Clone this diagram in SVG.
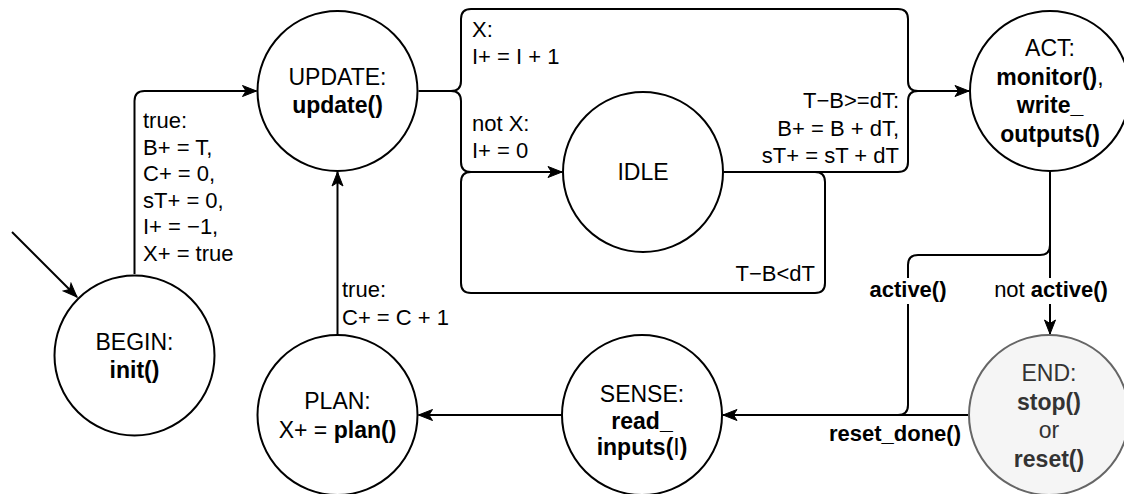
<svg xmlns="http://www.w3.org/2000/svg" width="1124" height="494" viewBox="0 0 1124 494">
<defs>
<style>
.node{fill:#ffffff;stroke:#000000;stroke-width:2}
.end{fill:#f5f5f5;stroke:#666666;stroke-width:2}
.nt{font-family:"Liberation Sans",Arial,sans-serif;font-size:23px;fill:#000;text-anchor:middle}
.et{font-family:"Liberation Sans",Arial,sans-serif;font-size:23px;fill:#333333;text-anchor:middle}
.lbl{font-family:"Liberation Sans",Arial,sans-serif;font-size:22px;fill:#000}
.b{font-weight:bold}
.edge{fill:none;stroke:#000;stroke-width:2}
</style>
<marker id="arr" markerUnits="userSpaceOnUse" markerWidth="16" markerHeight="14" refX="15" refY="7" orient="auto">
<path d="M1,1.5 L15,7 L1,12.5 L4.5,7 Z" fill="#000" stroke="#000" stroke-width="1"/>
</marker>
</defs>
<rect width="1124" height="494" fill="#ffffff"/>
<g id="connectors">
<path class="edge" d="M12,232 L77,297" marker-end="url(#arr)"/>
<path class="edge" d="M134.5,274 V101 Q134.5,91 144.5,91 H256.5" marker-end="url(#arr)"/>
<path class="edge" d="M337.5,334 V172" marker-end="url(#arr)"/>
<path class="edge" d="M418.5,91 H451 Q461,91 461,81 V19 Q461,9 471,9 H898 Q908,9 908,19 V81 Q908,91 918,91 H969" marker-end="url(#arr)"/>
<path class="edge" d="M451,91 Q461,91 461,101 V162 Q461,172 471,172 H562" marker-end="url(#arr)"/>
<path class="edge" d="M724,172 H898 Q908,172 908,162 V101 Q908,91 918,91"/>
<path class="edge" d="M724,172 H815 Q825,172 825,182 V283 Q825,293 815,293 H471 Q461,293 461,283 V182 Q461,172 471,172"/>
<path class="edge" d="M1050,172 V334" marker-end="url(#arr)"/>
<path class="edge" d="M1050,245 Q1050,255 1040,255 H918 Q908,255 908,265 V405 Q908,415 898,415"/>
<path class="edge" d="M968,415 H723" marker-end="url(#arr)"/>
<path class="edge" d="M561,415 H418.5" marker-end="url(#arr)"/>
<rect x="868" y="278" width="80" height="26" fill="#ffffff"/>
<rect x="992" y="278" width="118" height="26" fill="#ffffff"/>
<text class="lbl" x="143" y="128">true:</text>
<text class="lbl" x="143" y="154.5">B+ = T,</text>
<text class="lbl" x="143" y="181">C+ = 0,</text>
<text class="lbl" x="143" y="207.5">sT+ = 0,</text>
<text class="lbl" x="143" y="234">I+ = −1,</text>
<text class="lbl" x="143" y="260.5">X+ = true</text>
<text class="lbl" x="342" y="297">true:</text>
<text class="lbl" x="342" y="325">C+ = C + 1</text>
<text class="lbl" x="472" y="37">X:</text>
<text class="lbl" x="472" y="64">I+ = I + 1</text>
<text class="lbl" x="472" y="131">not X:</text>
<text class="lbl" x="472" y="158">I+ = 0</text>
<text class="lbl" x="899" y="108" text-anchor="end">T−B&gt;=dT:</text>
<text class="lbl" x="899" y="135.5" text-anchor="end">B+ = B + dT,</text>
<text class="lbl" x="899" y="163" text-anchor="end">sT+ = sT + dT</text>
<text class="lbl" x="815" y="281" text-anchor="end">T−B&lt;dT</text>
<text class="lbl b" x="908" y="297" text-anchor="middle">active()</text>
<text class="lbl" x="1051" y="297" text-anchor="middle">not <tspan class="b">active()</tspan></text>
<text class="lbl b" x="895" y="441" text-anchor="middle">reset_done()</text>
</g>
<g id="update">
<circle class="node" cx="337.5" cy="91" r="80"/>
<text class="nt" x="337.5" y="85">UPDATE:</text>
<text class="nt b" x="337.5" y="113">update()</text>
</g>
<g id="idle">
<circle class="node" cx="643" cy="172" r="80"/>
<text class="nt" x="643" y="180">IDLE</text>
</g>
<g id="act">
<circle class="node" cx="1050" cy="91" r="80"/>
<text class="nt" x="1050" y="56">ACT:</text>
<text class="nt" x="1050" y="84.5"><tspan class="b">monitor()</tspan>,</text>
<text class="nt b" x="1050" y="113">write_</text>
<text class="nt b" x="1050" y="141.5">outputs()</text>
</g>
<g id="begin">
<circle class="node" cx="134.5" cy="355.5" r="80"/>
<text class="nt" x="134.5" y="349.5">BEGIN:</text>
<text class="nt b" x="134.5" y="378">init()</text>
</g>
<g id="plan">
<circle class="node" cx="337.5" cy="415" r="80"/>
<text class="nt" x="337.5" y="409">PLAN:</text>
<text class="nt" x="337.5" y="437.5">X+ = <tspan class="b">plan()</tspan></text>
</g>
<g id="sense">
<circle class="node" cx="642" cy="415" r="80"/>
<text class="nt" x="642" y="402">SENSE:</text>
<text class="nt b" x="642" y="428.5">read_</text>
<text class="nt" x="642" y="455"><tspan class="b">inputs(</tspan>I<tspan class="b">)</tspan></text>
</g>
<g id="end">
<circle class="end" cx="1049" cy="415" r="80"/>
<text class="et" x="1049" y="381">END:</text>
<text class="et b" x="1049" y="409.5">stop()</text>
<text class="et" x="1049" y="438">or</text>
<text class="et b" x="1049" y="466.5">reset()</text>
</g>
</svg>
